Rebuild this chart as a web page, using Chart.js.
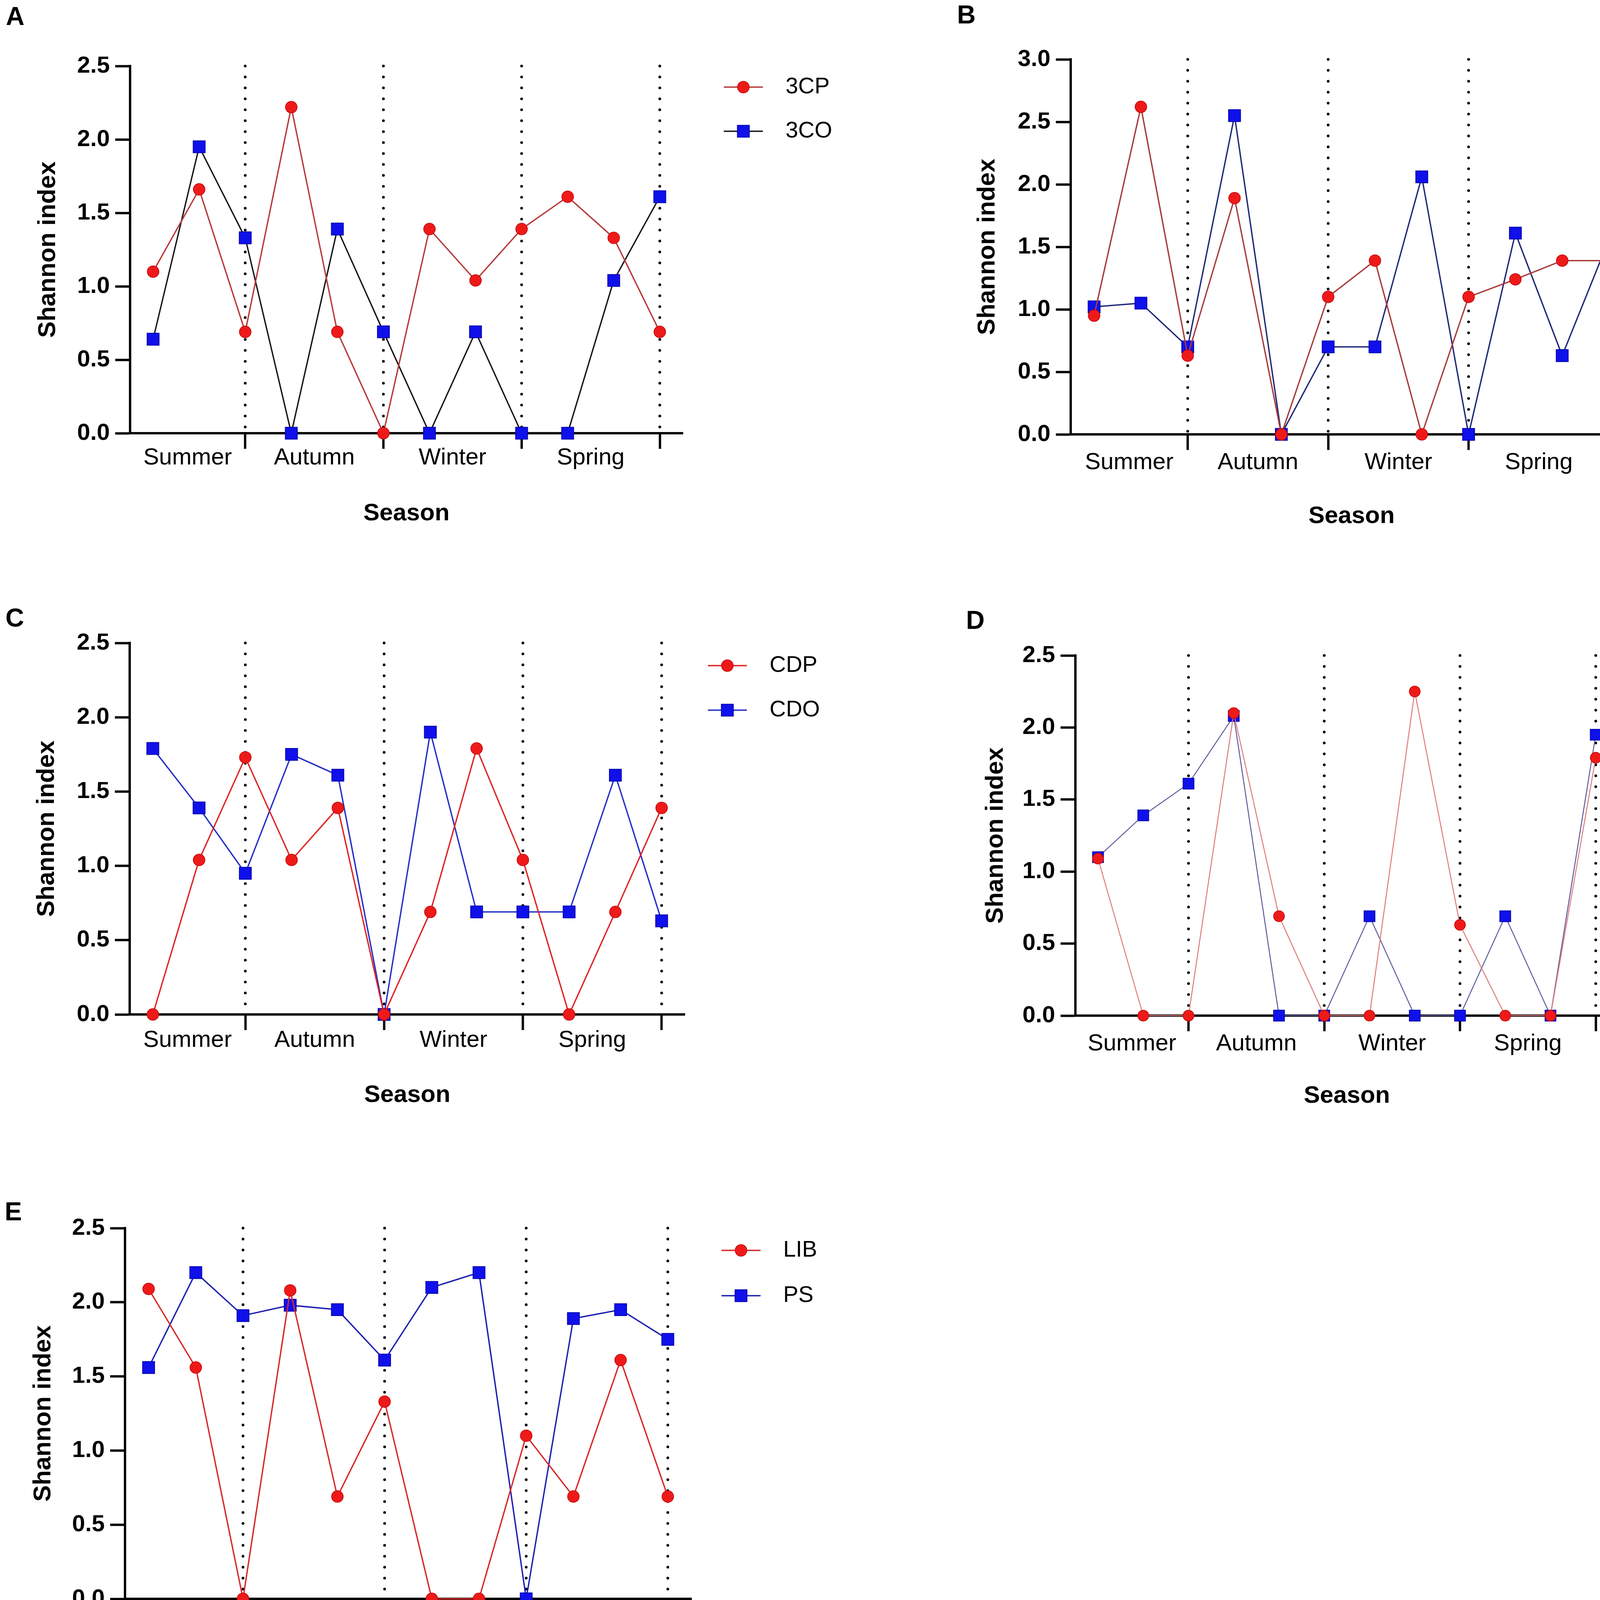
<!DOCTYPE html>
<html>
<head>
<meta charset="utf-8">
<title>Shannon index by season</title>
<script src="https://cdn.jsdelivr.net/npm/chart.js@4.4.1/dist/chart.umd.min.js"></script>
<style>
  html, body { margin: 0; padding: 0; background: #fff; }
  #page { position: relative; width: 4550px; height: 4426px; background: #fff; overflow: hidden; }
  .panel { position: absolute; }
  .panel canvas { display: block; }
  .letter {
    position: absolute;
    font-family: "Liberation Sans", Arial, sans-serif;
    font-weight: bold;
    font-size: 66px;
    line-height: 1;
    color: #000;
  }
</style>
</head>
<body>
<div id="page">
  <div class="letter" style="left:15px;top:8px">A</div>
  <div class="letter" style="left:2450px;top:4px">B</div>
  <div class="letter" style="left:14px;top:1548px">C</div>
  <div class="letter" style="left:2473px;top:1554px">D</div>
  <div class="letter" style="left:12px;top:3068px">E</div>
</div>
<script>
// Seasons and sample slots (three samples per season)
const seasons = ["Summer", "Autumn", "Winter", "Spring"];
const sampleIndex = [0, 1, 2, 3, 4, 5, 6, 7, 8, 9, 10, 11];

// Shannon index values
const shannon3CP = [1.10, 1.66, 0.69, 2.22, 0.69, 0.00, 1.39, 1.04, 1.39, 1.61, 1.33, 0.69];
const shannon3CO = [0.64, 1.95, 1.33, 0.00, 1.39, 0.69, 0.00, 0.69, 0.00, 0.00, 1.04, 1.61];

const shannon5CP = [0.95, 2.62, 0.63, 1.89, 0.00, 1.10, 1.39, 0.00, 1.10, 1.24, 1.39, 1.39];
const shannon5CO = [1.02, 1.05, 0.70, 2.55, 0.00, 0.70, 0.70, 2.06, 0.00, 1.61, 0.63, 1.56];

const shannonCDP = [0.00, 1.04, 1.73, 1.04, 1.39, 0.00, 0.69, 1.79, 1.04, 0.00, 0.69, 1.39];
const shannonCDO = [1.79, 1.39, 0.95, 1.75, 1.61, 0.00, 1.90, 0.69, 0.69, 0.69, 1.61, 0.63];

const shannonFDP = [1.09, 0.00, 0.00, 2.10, 0.69, 0.00, 0.00, 2.25, 0.63, 0.00, 0.00, 1.79];
const shannonFDO = [1.10, 1.39, 1.61, 2.08, 0.00, 0.00, 0.69, 0.00, 0.00, 0.69, 0.00, 1.95];

const shannonLIB = [2.09, 1.56, 0.00, 2.08, 0.69, 1.33, 0.00, 0.00, 1.10, 0.69, 1.61, 0.69];
const shannonPS = [1.56, 2.20, 1.91, 1.98, 1.95, 1.61, 2.10, 2.20, 0.00, 1.89, 1.95, 1.75];

// y axis tick step
const yStep = 0.5;

const FONT = '"Liberation Sans", Arial, Helvetica, sans-serif';
const Y_W = 260; // width reserved for the y axis (ticks + labels + title)
const X_H = 260; // height reserved for the x axis

// season boundaries sit on the last sample of every season
const xMin = -0.5;
const xMax = 11.5;
const boundaries = seasons.map((s, i) => i * 3 + 2);
const seasonCenters = boundaries.map((b, i) => ((i === 0 ? xMin : boundaries[i - 1]) + b) / 2);
const xTickValues = seasonCenters.concat(boundaries).sort((a, b) => a - b);

const markerFill = ["#ee1a1a", "#0f10ea"];
const markerEdge = ["#c20000", "#00009a"];
const markerStyle = ["circle", "rect"];

// panel layout (page pixels) and styling
const panels = [
  {
    box: [0, 0, 2270, 1420], plot: [333, 169, 1748, 1109], yMax: 2.5,
    names: ["3CP", "3CO"], values: [shannon3CP, shannon3CO],
    lineColors: ["#b83a3a", "#161616"], lineWidth: 3.5, radius: [15, 22],
    legend: [1903, 223, 113], labelOffset: 63, titleOffset: 206, yTitleDist: 210,
  },
  {
    box: [2270, 0, 2280, 1420], plot: [2741, 152, 4179, 1112], yMax: 3.0,
    names: ["5CP", "5CO"], values: [shannon5CP, shannon5CO],
    lineColors: ["#a83c3c", "#202a78"], lineWidth: 3.5, radius: [15, 22],
    legend: [4294, 211, 115], labelOffset: 72, titleOffset: 210, yTitleDist: 213,
  },
  {
    box: [0, 1440, 2270, 1440], plot: [332, 1646, 1753, 2597], yMax: 2.5,
    names: ["CDP", "CDO"], values: [shannonCDP, shannonCDO],
    lineColors: ["#e02424", "#2430c8"], lineWidth: 3.5, radius: [15, 22],
    legend: [1862, 1704, 114], labelOffset: 66, titleOffset: 207, yTitleDist: 212,
  },
  {
    box: [2270, 1440, 2280, 1440], plot: [2753, 1678, 4143, 2600], yMax: 2.5,
    names: ["FDP", "FDO"], values: [shannonFDP, shannonFDO],
    lineColors: ["#e07a7a", "#5c5c9c"], lineWidth: 2.5, radius: [14, 20],
    legend: [4279, 1734, 112], labelOffset: 72, titleOffset: 206, yTitleDist: 204,
  },
  {
    box: [0, 2940, 2270, 1486], plot: [320, 3144, 1770, 4093], yMax: 2.5,
    names: ["LIB", "PS"], values: [shannonLIB, shannonPS],
    lineColors: ["#d82828", "#1c20b0"], lineWidth: 3.5, radius: [15, 22],
    legend: [1897, 3201, 116], labelOffset: 66, titleOffset: 200, yTitleDist: 209,
  },
];

// Dotted vertical lines at the season boundaries
const seasonDividers = {
  id: "seasonDividers",
  beforeDatasetsDraw(chart) {
    const { ctx, chartArea, scales } = chart;
    ctx.save();
    ctx.strokeStyle = "#000";
    ctx.lineWidth = 7;
    ctx.lineCap = "round";
    ctx.setLineDash([0, 28]);
    boundaries.forEach((b) => {
      const px = scales.x.getPixelForValue(b);
      ctx.beginPath();
      ctx.moveTo(px, chartArea.top);
      ctx.lineTo(px, chartArea.bottom);
      ctx.stroke();
    });
    ctx.restore();
  },
};

// Legend with a line through the marker, like the original figure
const seriesLegend = {
  id: "seriesLegend",
  afterDraw(chart, args, opts) {
    const ctx = chart.ctx;
    chart.data.datasets.forEach((ds, k) => {
      const cx = opts.x;
      const cy = opts.y + k * opts.gap;
      ctx.save();
      ctx.strokeStyle = ds.borderColor;
      ctx.lineWidth = ds.borderWidth;
      ctx.beginPath();
      ctx.moveTo(cx - 50, cy);
      ctx.lineTo(cx + 50, cy);
      ctx.stroke();

      ctx.fillStyle = ds.pointBackgroundColor;
      ctx.strokeStyle = ds.pointBorderColor;
      ctx.lineWidth = ds.pointBorderWidth;
      ctx.beginPath();
      if (ds.pointStyle === "circle") {
        ctx.arc(cx, cy, ds.pointRadius, 0, Math.PI * 2);
      } else {
        const h = ds.pointRadius * Math.SQRT1_2;
        ctx.rect(cx - h, cy - h, 2 * h, 2 * h);
      }
      ctx.fill();
      ctx.stroke();

      ctx.fillStyle = "#000";
      ctx.font = "58px " + FONT;
      ctx.textBaseline = "middle";
      ctx.textAlign = "left";
      ctx.fillText(ds.label, cx + 108, cy);
      ctx.restore();
    });
  },
};

function isBoundary(value) {
  return boundaries.indexOf(value) !== -1;
}

// Build one panel: canvas placed on the page, chart area pinned to the plot box
function buildPanel(p) {
  const [bx, by, bw, bh] = p.box;
  const [pl, pt, pr, pb] = p.plot;

  const wrap = document.createElement("div");
  wrap.className = "panel";
  wrap.style.left = bx + "px";
  wrap.style.top = by + "px";
  wrap.style.width = bw + "px";
  wrap.style.height = bh + "px";
  const canvas = document.createElement("canvas");
  canvas.width = bw;
  canvas.height = bh;
  canvas.style.width = bw + "px";
  canvas.style.height = bh + "px";
  wrap.appendChild(canvas);
  document.getElementById("page").appendChild(wrap);

  const titleLH = 62 * 1.2;

  new Chart(canvas.getContext("2d"), {
    type: "line",
    data: {
      datasets: p.names.map((name, k) => ({
        label: name,
        data: p.values[k].map((v, i) => ({ x: sampleIndex[i], y: v })),
        borderColor: p.lineColors[k],
        borderWidth: p.lineWidth,
        backgroundColor: markerFill[k],
        pointBackgroundColor: markerFill[k],
        pointBorderColor: markerEdge[k],
        pointBorderWidth: 1.5,
        pointStyle: markerStyle[k],
        pointRadius: p.radius[k],
        pointHoverRadius: p.radius[k],
        tension: 0,
        fill: false,
        clip: false,
      })),
    },
    options: {
      responsive: false,
      animation: false,
      devicePixelRatio: 1,
      events: [],
      layout: {
        autoPadding: false,
        padding: {
          left: pl - bx - Y_W,
          top: pt - by,
          right: bx + bw - pr,
          bottom: by + bh - pb - X_H,
        },
      },
      plugins: {
        legend: { display: false },
        tooltip: { enabled: false },
        seriesLegend: { x: p.legend[0] - bx, y: p.legend[1] - by, gap: p.legend[2] },
      },
      scales: {
        x: {
          type: "linear",
          min: xMin,
          max: xMax,
          afterBuildTicks: (axis) => {
            axis.ticks = xTickValues.map((v) => ({ value: v }));
          },
          afterFit: (axis) => {
            axis.height = X_H;
          },
          grid: {
            drawOnChartArea: false,
            drawTicks: true,
            tickLength: 40,
            tickWidth: 6,
            tickColor: (c) => (c.tick && isBoundary(c.tick.value) ? "#000" : "rgba(0,0,0,0)"),
          },
          border: { color: "#000", width: 6 },
          ticks: {
            autoSkip: false,
            maxRotation: 0,
            minRotation: 0,
            color: "#000",
            padding: p.labelOffset - 40 - 15,
            font: { family: FONT, size: 60, lineHeight: 0.5 },
            callback: (v) => {
              const i = seasonCenters.indexOf(v);
              return i === -1 ? "" : seasons[i];
            },
          },
          title: {
            display: true,
            text: "Season",
            color: "#000",
            font: { family: FONT, size: 62, weight: "bold", lineHeight: 1.2 },
            padding: { top: 0, bottom: X_H - p.titleOffset - titleLH / 2 },
          },
        },
        y: {
          min: 0,
          max: p.yMax,
          afterFit: (axis) => {
            axis.width = Y_W;
          },
          grid: {
            drawOnChartArea: false,
            drawTicks: true,
            tickLength: 38,
            tickWidth: 6,
            tickColor: "#000",
          },
          border: { color: "#000", width: 6 },
          ticks: {
            stepSize: yStep,
            color: "#000",
            padding: 14,
            font: { family: FONT, size: 60, weight: "bold" },
            callback: (v) => Number(v).toFixed(1),
          },
          title: {
            display: true,
            text: "Shannon index",
            color: "#000",
            font: { family: FONT, size: 63, weight: "bold", lineHeight: 1.2 },
            padding: { top: Y_W - p.yTitleDist - titleLH / 2, bottom: 0 },
          },
        },
      },
    },
    plugins: [seasonDividers, seriesLegend],
  });
}

panels.forEach(buildPanel);
</script>
</body>
</html>
